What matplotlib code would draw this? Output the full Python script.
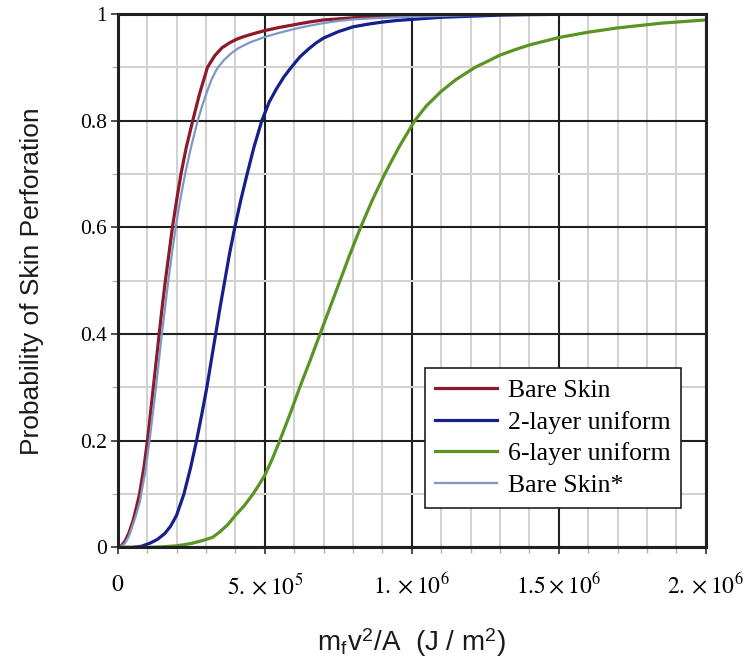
import numpy as np
import matplotlib
matplotlib.use("Agg")
import matplotlib.pyplot as plt
from matplotlib.ticker import MultipleLocator, FixedLocator

plt.rcParams['mathtext.fontset'] = 'stix'

# values (x in J/m^2)
bare_x = [0, 0.12e5, 0.25e5, 0.38e5, 0.52e5, 0.63e5, 0.74e5, 0.89e5, 1.01e5, 1.11e5, 1.21e5, 1.31e5,
          1.41e5, 1.51e5, 1.62e5, 1.74e5, 1.86e5, 2.0e5, 2.15e5, 2.33e5, 2.55e5, 2.78e5, 3.05e5,
          3.3e5, 3.55e5, 3.8e5, 4.05e5, 4.3e5, 4.6e5, 5.0e5, 5.5e5, 6.0e5, 6.5e5, 7.0e5, 7.5e5,
          8.0e5, 9.0e5, 10e5, 12e5, 15e5, 20e5]
bare_y = [0, 0.003, 0.012, 0.027, 0.05, 0.074, 0.10, 0.15, 0.20, 0.25, 0.30, 0.35,
          0.40, 0.45, 0.50, 0.55, 0.60, 0.65, 0.70, 0.75, 0.80, 0.85, 0.90,
          0.922, 0.937, 0.946, 0.953, 0.958, 0.963, 0.969, 0.975, 0.980, 0.985, 0.989, 0.991,
          0.993, 0.996, 0.998, 1.0, 1.0, 1.0]

two_x = [0, 0.5e5, 0.8e5, 1.1e5, 1.35e5, 1.6e5, 1.8e5, 2.0e5, 2.25e5, 2.48e5, 2.68e5,
         2.86e5, 3.03e5, 3.18e5, 3.33e5, 3.48e5, 3.64e5, 3.8e5, 3.98e5, 4.18e5, 4.4e5, 4.63e5,
         4.9e5, 5.15e5, 5.4e5, 5.65e5, 5.9e5, 6.2e5, 6.5e5, 6.75e5, 7.0e5, 7.5e5, 8.0e5, 8.5e5,
         9.0e5, 9.5e5, 10e5, 11e5, 12e5, 13e5, 14e5, 16e5, 20e5]
two_y = [0, 0, 0.002, 0.008, 0.015, 0.026, 0.04, 0.06, 0.10, 0.15, 0.20,
         0.25, 0.30, 0.35, 0.40, 0.45, 0.50, 0.55, 0.60, 0.65, 0.70, 0.75,
         0.80, 0.835, 0.86, 0.882, 0.90, 0.92, 0.935, 0.946, 0.955, 0.967, 0.976, 0.981,
         0.985, 0.988, 0.990, 0.994, 0.996, 0.998, 0.999, 1.0, 1.0]

six_x = [0, 1.0e5, 1.5e5, 2.0e5, 2.25e5, 2.55e5, 2.9e5, 3.23e5, 3.47e5, 3.75e5, 4.0e5, 4.3e5,
         4.6e5, 4.8e5, 5.0e5, 5.25e5, 5.51e5, 5.86e5, 6.19e5, 6.54e5, 6.88e5, 7.22e5, 7.56e5,
         7.9e5, 8.26e5, 8.65e5, 9.08e5, 9.56e5, 10.1e5, 10.5e5, 11e5, 11.5e5, 12.15e5, 12.6e5,
         13e5, 13.5e5, 14e5, 14.5e5, 15e5, 15.5e5, 16e5, 16.5e5, 17e5, 17.5e5, 18e5, 18.5e5,
         19e5, 19.5e5, 20e5]
six_y = [0, 0, 0.001, 0.003, 0.005, 0.008, 0.013, 0.019, 0.029, 0.043, 0.06, 0.078,
         0.10, 0.117, 0.135, 0.165, 0.20, 0.25, 0.30, 0.35, 0.40, 0.45, 0.50,
         0.55, 0.60, 0.65, 0.70, 0.75, 0.80, 0.828, 0.855, 0.877, 0.90, 0.912,
         0.923, 0.933, 0.942, 0.949, 0.956, 0.961, 0.966, 0.970, 0.974, 0.977, 0.980, 0.983,
         0.985, 0.987, 0.989]

bare2_x = [0, 0.12e5, 0.25e5, 0.37e5, 0.5e5, 0.62e5, 0.75e5, 0.93e5, 1.08e5, 1.19e5, 1.3e5,
           1.4e5, 1.5e5, 1.61e5, 1.72e5, 1.84e5, 1.97e5, 2.12e5, 2.29e5, 2.49e5, 2.72e5, 2.86e5,
           3.02e5, 3.18e5, 3.37e5, 3.6e5, 3.85e5, 4.1e5, 4.5e5, 5.0e5, 5.5e5, 6.0e5, 6.5e5,
           7.0e5, 7.5e5, 8.0e5, 9.0e5, 10e5, 12e5, 15e5, 20e5]
bare2_y = [0, 0.002, 0.008, 0.02, 0.04, 0.06, 0.085, 0.14, 0.20, 0.25, 0.30,
           0.35, 0.40, 0.45, 0.50, 0.55, 0.60, 0.65, 0.70, 0.75, 0.80, 0.826,
           0.852, 0.876, 0.897, 0.913, 0.926, 0.936, 0.947, 0.957, 0.965, 0.972, 0.978,
           0.983, 0.987, 0.990, 0.993, 0.995, 0.998, 1.0, 1.0]

labels = ['Bare Skin', '2-layer uniform', '6-layer uniform', 'Bare Skin*']
xtick_vals = [0, 5e5, 1e6, 1.5e6, 2e6]
xtick_labels = [r'$0$', r'$5.\times10^{5}$', r'$1.\times10^{6}$', r'$1.5\times10^{6}$', r'$2.\times10^{6}$']
ytick_vals = [0, 0.2, 0.4, 0.6, 0.8, 1]
ytick_labels = ['0', '0.2', '0.4', '0.6', '0.8', '1']

fig = plt.figure(figsize=(7.5, 6.7), dpi=100)
ax = fig.add_axes([0.157, 0.183, 0.784, 0.796])

ax.plot(bare_x, bare_y, color='#8c1a2a', lw=2.3, label=labels[0])
ax.plot(two_x, two_y, color='#16208a', lw=2.3, label=labels[1])
ax.plot(six_x, six_y, color='#5a9424', lw=2.3, label=labels[2])
ax.plot(bare2_x, bare2_y, color='#7d98c4', lw=1.6, label=labels[3])

ax.set_xlim(0, 2e6)
ax.set_ylim(0, 1)

ax.xaxis.set_major_locator(FixedLocator(xtick_vals))
ax.set_xticklabels(xtick_labels, fontsize=17)
ax.xaxis.set_minor_locator(MultipleLocator(1e5))
ax.yaxis.set_major_locator(FixedLocator(ytick_vals))
ax.set_yticklabels(ytick_labels, fontsize=15.5, family='Liberation Serif')
ax.yaxis.set_minor_locator(MultipleLocator(0.1))

ax.grid(which='minor', color='#d2d2d2', lw=1.5, zorder=0)
ax.grid(which='major', color='#202020', lw=1.5, zorder=0)
ax.set_axisbelow(True)

ax.tick_params(which='major', direction='out', length=5, width=1.2, color='#303030', pad=13)
ax.tick_params(axis='y', which='major', pad=3)
ax.tick_params(which='minor', direction='out', length=4, width=1, color='#b0b0b0')

for s in ax.spines.values():
    s.set_color('#202020')
    s.set_linewidth(2.2)

ax.set_xlabel(r'm$_\mathregular{f}$v$^\mathregular{2}$/A  (J / m$^\mathregular{2}$)',
              fontsize=20, family='Liberation Sans', labelpad=20, color='#1a1a1a')
ax.set_ylabel('Probability of Skin Perforation', fontsize=19,
              family='Liberation Sans', labelpad=26, color='#1a1a1a')

leg = ax.legend(loc='upper left', bbox_to_anchor=(0.522, 0.336), fancybox=False,
                framealpha=1, edgecolor='#202020', handlelength=2.4,
                prop={'family': 'Liberation Serif', 'size': 18.5},
                labelspacing=0.34, borderpad=0.42, handletextpad=0.42, borderaxespad=0)
leg.get_frame().set_linewidth(1.2)

fig.savefig('out.png', dpi=100)
